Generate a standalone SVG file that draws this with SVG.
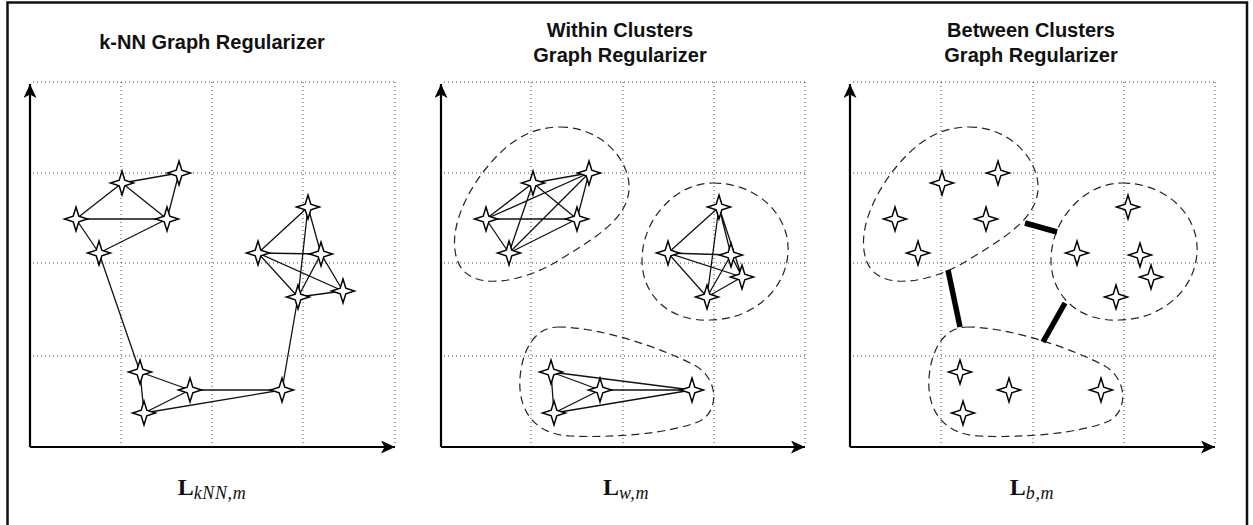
<svg xmlns="http://www.w3.org/2000/svg" xmlns:xlink="http://www.w3.org/1999/xlink" width="1253" height="525" viewBox="0 0 1253 525">
  <style>
    .title { font-family: "Liberation Sans", Arial, sans-serif; font-weight: bold; font-size: 20px; fill: #111; text-anchor: middle; }
    .math { font-family: "Liberation Serif", "Times New Roman", serif; fill: #111; text-anchor: middle; }
    .mL { font-weight: bold; font-size: 24px; }
    .mSub { font-style: italic; font-size: 18px; letter-spacing: 0.6px; }
    .grid { stroke: #444; stroke-width: 1; stroke-dasharray: 1 3; fill: none; }
    .axis { stroke: #000; stroke-width: 2.2; fill: none; }
    .cluster { stroke: #222; stroke-width: 1.2; stroke-dasharray: 8 5; fill: none; }
    .edge { stroke: #111; stroke-width: 1.3; fill: none; }
    .bar { stroke: #000; stroke-width: 5.5; stroke-linecap: butt; }
    .star { fill: #fff; stroke: #000; stroke-width: 1.5; stroke-linejoin: miter; }
  </style>
  <defs>
    <path id="star" class="star" d="M0,-12 L2.8,-2.8 L11.5,0 L2.8,2.8 L0,12 L-2.8,2.8 L-11.5,0 L-2.8,-2.8 Z"/>
    <marker id="arrow" markerUnits="userSpaceOnUse" markerWidth="15" markerHeight="13" refX="14" refY="6.5" orient="auto">
      <path d="M0,0 L14,6.5 L0,13 L3.5,6.5 Z" fill="#000"/>
    </marker>
  </defs>

  <!-- outer frame -->
  <rect x="7.5" y="2.5" width="1239.5" height="530" fill="#fff" stroke="#111" stroke-width="2.5"/>

  <!-- titles -->
  <g id="titles">
    <text class="title" x="212" y="49">k-NN Graph Regularizer</text>
    <text class="title" x="620" y="37">Within Clusters</text>
    <text class="title" x="620" y="62">Graph Regularizer</text>
    <text class="title" x="1031" y="37">Between Clusters</text>
    <text class="title" x="1031" y="62">Graph Regularizer</text>
  </g>

  <!-- dotted grids -->
  <g id="grids" class="grid">
    <path d="M33,82 H395 M33,173 H395 M33,263 H395 M33,356 H395 M121,82 V444 M212,82 V444 M303,82 V444 M395,82 V444"/>
    <path d="M444,82 H805 M444,173 H805 M444,263 H805 M444,356 H805 M531,82 V444 M623,82 V444 M714,82 V444 M805,82 V444"/>
    <path d="M853,82 H1215 M853,173 H1215 M853,263 H1215 M853,356 H1215 M941,82 V444 M1033,82 V444 M1124,82 V444 M1215,82 V444"/>
  </g>

  <!-- cluster outlines -->
  <g id="clusters" class="cluster">
    <path d="M560,127 C603,127 631,162 629,190 C627,220 592,240 556,262 C520,283 470,292 458,262 C447,235 463,196 488,166 C508,142 530,127 560,127 Z"/>
    <path d="M713,183 C757,183 790,215 788,252 C786,292 750,320 710,320 C670,322 642,296 642,260 C642,220 675,183 713,183 Z"/>
    <path d="M558,327 C600,327 662,348 696,366 C720,381 718,412 700,421 C670,434 610,438 570,436 C530,434 518,405 520,378 C522,350 535,327 558,327 Z"/>
    <path d="M969,127 C1012,127 1040,162 1038,190 C1036,220 1001,240 965,262 C929,283 879,292 867,262 C856,235 872,196 897,166 C917,142 939,127 969,127 Z"/>
    <path d="M1122,183 C1166,183 1199,215 1197,252 C1195,292 1159,320 1119,320 C1079,322 1051,296 1051,260 C1051,220 1084,183 1122,183 Z"/>
    <path d="M967,327 C1009,327 1071,348 1105,366 C1129,381 1127,412 1109,421 C1079,434 1019,438 979,436 C939,434 927,405 929,378 C931,350 944,327 967,327 Z"/>
  </g>

  <!-- axes -->
  <g id="axes" class="axis">
    <path d="M30,447 V84" marker-end="url(#arrow)"/>
    <path d="M30,447 H395" marker-end="url(#arrow)"/>
    <path d="M441,447 V84" marker-end="url(#arrow)"/>
    <path d="M441,447 H805" marker-end="url(#arrow)"/>
    <path d="M850,447 V84" marker-end="url(#arrow)"/>
    <path d="M850,447 H1215" marker-end="url(#arrow)"/>
  </g>

  <!-- connectors -->
  <g id="connectors">
    <g class="edge">
      <!-- k-NN graph -->
      <path d="M122,183 L179,173 M122,183 L76,219 M122,183 L167,219 M179,173 L167,219 M76,219 L167,219 M76,219 L99,253 M99,253 L167,219 M99,253 L140,372"/>
      <path d="M140,372 L190,390 M140,372 L144,413 M144,413 L190,390 M190,390 L282,390 M144,413 L282,390 M282,390 L298,297"/>
      <path d="M308,207 L258,253 M308,207 L298,297 M308,207 L321,254 M258,253 L321,254 M258,253 L343,291 M258,253 L298,297 M321,254 L298,297 M321,254 L343,291 M298,297 L343,291"/>
      <!-- within clusters: cluster A (complete) -->
      <path d="M533,183 L589,173 M533,183 L486,219 M533,183 L577,219 M533,183 L509,253 M589,173 L486,219 M589,173 L577,219 M589,173 L509,253 M486,219 L577,219 M486,219 L509,253 M577,219 L509,253"/>
      <!-- cluster B (complete) -->
      <path d="M719,207 L668,253 M719,207 L731,255 M719,207 L742,277 M719,207 L707,297 M668,253 L731,255 M668,253 L742,277 M668,253 L707,297 M731,255 L742,277 M731,255 L707,297 M742,277 L707,297"/>
      <!-- cluster C (complete) -->
      <path d="M551,372 L600,390 M551,372 L554,413 M551,372 L692,390 M600,390 L554,413 M600,390 L692,390 M554,413 L692,390"/>
    </g>
    <!-- between clusters links -->
    <g class="bar">
      <line x1="1025" y1="223" x2="1057" y2="232"/>
      <line x1="948" y1="270" x2="960" y2="327"/>
      <line x1="1065" y1="303" x2="1043" y2="342"/>
    </g>
  </g>

  <!-- k-NN panel nodes -->
  <g id="knn-n1"><use xlink:href="#star" x="122" y="183"/></g>
  <g id="knn-n2"><use xlink:href="#star" x="179" y="173"/></g>
  <g id="knn-n3"><use xlink:href="#star" x="76" y="219"/></g>
  <g id="knn-n4"><use xlink:href="#star" x="167" y="219"/></g>
  <g id="knn-n5"><use xlink:href="#star" x="99" y="253"/></g>
  <g id="knn-n6"><use xlink:href="#star" x="308" y="207"/></g>
  <g id="knn-n7"><use xlink:href="#star" x="258" y="253"/></g>
  <g id="knn-n8"><use xlink:href="#star" x="321" y="254"/></g>
  <g id="knn-n9"><use xlink:href="#star" x="343" y="291"/></g>
  <g id="knn-n10"><use xlink:href="#star" x="298" y="297"/></g>
  <g id="knn-n11"><use xlink:href="#star" x="140" y="372"/></g>
  <g id="knn-n12"><use xlink:href="#star" x="190" y="390"/></g>
  <g id="knn-n13"><use xlink:href="#star" x="144" y="413"/></g>
  <g id="knn-n14"><use xlink:href="#star" x="282" y="390"/></g>

  <!-- within-clusters panel nodes -->
  <g id="w-a1"><use xlink:href="#star" x="533" y="183"/></g>
  <g id="w-a2"><use xlink:href="#star" x="589" y="173"/></g>
  <g id="w-a3"><use xlink:href="#star" x="486" y="219"/></g>
  <g id="w-a4"><use xlink:href="#star" x="577" y="219"/></g>
  <g id="w-a5"><use xlink:href="#star" x="509" y="253"/></g>
  <g id="w-b1"><use xlink:href="#star" x="719" y="207"/></g>
  <g id="w-b2"><use xlink:href="#star" x="668" y="253"/></g>
  <g id="w-b3"><use xlink:href="#star" x="731" y="255"/></g>
  <g id="w-b4"><use xlink:href="#star" x="742" y="277"/></g>
  <g id="w-b5"><use xlink:href="#star" x="707" y="297"/></g>
  <g id="w-c1"><use xlink:href="#star" x="551" y="372"/></g>
  <g id="w-c2"><use xlink:href="#star" x="600" y="390"/></g>
  <g id="w-c3"><use xlink:href="#star" x="554" y="413"/></g>
  <g id="w-c4"><use xlink:href="#star" x="692" y="390"/></g>

  <!-- between-clusters panel nodes -->
  <g id="b-a1"><use xlink:href="#star" x="942" y="183"/></g>
  <g id="b-a2"><use xlink:href="#star" x="998" y="173"/></g>
  <g id="b-a3"><use xlink:href="#star" x="895" y="219"/></g>
  <g id="b-a4"><use xlink:href="#star" x="986" y="219"/></g>
  <g id="b-a5"><use xlink:href="#star" x="918" y="253"/></g>
  <g id="b-b1"><use xlink:href="#star" x="1128" y="207"/></g>
  <g id="b-b2"><use xlink:href="#star" x="1077" y="253"/></g>
  <g id="b-b3"><use xlink:href="#star" x="1140" y="255"/></g>
  <g id="b-b4"><use xlink:href="#star" x="1151" y="277"/></g>
  <g id="b-b5"><use xlink:href="#star" x="1116" y="297"/></g>
  <g id="b-c1"><use xlink:href="#star" x="960" y="372"/></g>
  <g id="b-c2"><use xlink:href="#star" x="1009" y="390"/></g>
  <g id="b-c3"><use xlink:href="#star" x="963" y="413"/></g>
  <g id="b-c4"><use xlink:href="#star" x="1101" y="390"/></g>

  <!-- matrix labels -->
  <g id="labels">
    <text class="math" x="212" y="495"><tspan class="mL">L</tspan><tspan class="mSub" dy="4">kNN,m</tspan></text>
    <text class="math" x="626" y="495"><tspan class="mL">L</tspan><tspan class="mSub" dy="4">w,m</tspan></text>
    <text class="math" x="1032" y="495"><tspan class="mL">L</tspan><tspan class="mSub" dy="4">b,m</tspan></text>
  </g>
</svg>
